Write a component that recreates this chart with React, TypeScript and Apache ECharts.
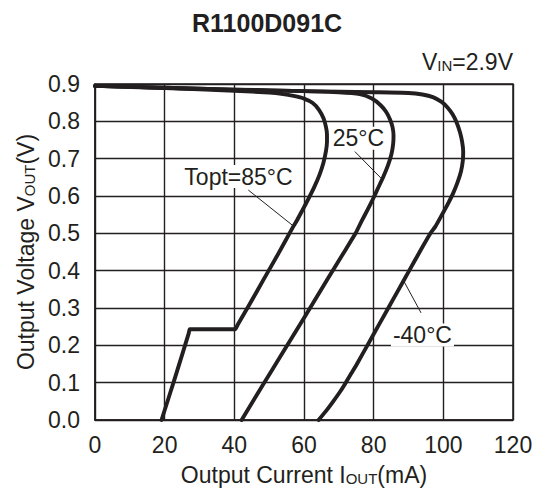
import React, { useEffect, useRef } from "react";
import * as echarts from "echarts";

const TITLE = "R1100D091C";
const X_MIN = 0;
const X_MAX = 120;
const X_STEP = 20;
const Y_MIN = 0;
const Y_MAX = 0.9;
const Y_STEP = 0.1;

const seriesNames = ["Topt=85°C", "25°C", "-40°C"];

const curve85: [number, number][] = [
  [0, 0.895], [20, 0.889], [40, 0.882], [50, 0.877], [54, 0.873], [57, 0.868],
  [60, 0.861], [62.5, 0.849], [64.3, 0.831], [65.6, 0.808], [66.3, 0.785],
  [66.6, 0.765], [66.6, 0.745], [66.3, 0.72], [65.6, 0.69], [64.5, 0.658],
  [63, 0.625], [61.3, 0.593], [59.6, 0.563], [58, 0.535], [56.9, 0.518],
  [52.6, 0.445], [48.5, 0.378], [44.5, 0.312], [41, 0.256], [40.2, 0.243],
  [39.4, 0.243], [28, 0.243], [27.2, 0.243], [26.9, 0.232], [23, 0.114], [19.1, 0],
];

const curve25: [number, number][] = [
  [0, 0.895], [20, 0.89], [40, 0.885], [60, 0.881], [70, 0.878], [76, 0.873],
  [79.5, 0.861], [82, 0.843], [83.6, 0.825], [84.7, 0.805], [85.4, 0.785],
  [85.7, 0.762], [85.6, 0.74], [85.1, 0.712], [84.1, 0.682], [82.8, 0.652],
  [81.3, 0.622], [79.8, 0.592], [78.2, 0.562], [76.5, 0.532], [74.8, 0.5],
  [71, 0.442], [66.6, 0.375], [60, 0.273], [53.2, 0.17], [48.4, 0.097], [42.1, 0],
];

const curveM40: [number, number][] = [
  [0, 0.895], [20, 0.89], [40, 0.885], [60, 0.881], [80, 0.878], [90, 0.876],
  [94, 0.872], [97, 0.865], [99.5, 0.852], [101.2, 0.837], [102.7, 0.818],
  [103.9, 0.795], [104.8, 0.77], [105.4, 0.745], [105.7, 0.72], [105.6, 0.695],
  [105.1, 0.667], [104.1, 0.637], [102.8, 0.607], [101.2, 0.577], [99.5, 0.548],
  [97.7, 0.518], [96.3, 0.5], [93.2, 0.45], [90.2, 0.4], [87.2, 0.35],
  [84.2, 0.3], [81.2, 0.25], [78.2, 0.2], [75.2, 0.15], [73.6, 0.125],
  [72.0, 0.1], [70.3, 0.075], [68.4, 0.05], [66.4, 0.025], [64.2, 0],
];

// annotation anchors (data coordinates)
const labelAt: [number, number][] = [[41.2, 0.652], [75.6, 0.755], [94, 0.228]];
const leaderFrom: [number, number][] = [[44.0, 0.616], [74.6, 0.719], [88.6, 0.373]];
const leaderTo: [number, number][] = [[56.9, 0.52], [82.2, 0.647], [93.6, 0.287]];

const FONT = "Liberation Sans";
const INK = "#231f20";

export default function App() {
  const ref = useRef<HTMLDivElement>(null);
  useEffect(() => {
    document.body.style.margin = "0";
    const chart = echarts.init(ref.current!, null, { renderer: "svg" });
    const curves = [curve85, curve25, curveM40];
    const series: any[] = curves.map((c, i) => ({
      name: seriesNames[i],
      type: "line",
      data: c,
      showSymbol: false,
      symbol: "none",
      smooth: 0.2,
      lineStyle: { color: INK, width: 3.9, join: "round", cap: "round" },
      z: 3,
      markLine: {
        silent: true,
        symbol: ["none", "none"],
        lineStyle: { color: INK, width: 1, type: "solid" },
        label: { show: false },
        data: [[{ coord: leaderFrom[i] }, { coord: leaderTo[i] }]],
      },
      markPoint: {
        silent: true,
        symbol: "circle",
        symbolSize: 0,
        label: {
          show: true,
          position: "inside",
          formatter: seriesNames[i],
          color: INK,
          fontFamily: FONT,
          fontSize: 23,
          backgroundColor: "#fff",
          padding: [0, 2, 0, 2],
        },
        data: [{ coord: labelAt[i] }],
      },
    }));

    chart.setOption({
      animation: false,
      backgroundColor: "#fff",
      title: {
        text: TITLE,
        left: 187,
        top: 5,
        textStyle: { fontFamily: FONT, fontSize: 25, fontWeight: "bold", color: INK },
      },
      graphic: [
        {
          type: "text",
          right: 30,
          top: 50,
          style: {
            text: "{n|V}{s|IN}{n|=2.9V}",
            rich: {
              n: { fontFamily: FONT, fontSize: 23, fill: INK, verticalAlign: "bottom" },
              s: { fontFamily: FONT, fontSize: 15, fill: INK, verticalAlign: "bottom" },
            },
          } as any,
        },
      ],
      grid: {
        left: 95,
        right: 30,
        top: 84,
        bottom: 75,
        show: true,
        borderColor: INK,
        borderWidth: 1.5,
        backgroundColor: "transparent",
      },
      xAxis: {
        type: "value",
        min: X_MIN,
        max: X_MAX,
        interval: X_STEP,
        name: "{n|Output Current I}{s|OUT}{n|(mA)}",
        nameLocation: "middle",
        nameGap: 43,
        nameTextStyle: {
          rich: {
            n: { fontFamily: FONT, fontSize: 23, color: INK, verticalAlign: "bottom" },
            s: { fontFamily: FONT, fontSize: 15, color: INK, verticalAlign: "bottom" },
          },
        },
        axisLine: { show: true, lineStyle: { color: INK, width: 1.5 } },
        axisTick: { show: false },
        axisLabel: { fontFamily: FONT, fontSize: 23, color: INK, margin: 13 },
        splitLine: { show: true, showMinLine: true, showMaxLine: true, lineStyle: { color: INK, width: 1.4 } },
      },
      yAxis: {
        type: "value",
        min: Y_MIN,
        max: Y_MAX,
        interval: Y_STEP,
        name: "{n|Output Voltage V}{s|OUT}{n|(V)}",
        nameLocation: "middle",
        nameGap: 56,
        nameTextStyle: {
          rich: {
            n: { fontFamily: FONT, fontSize: 23, color: INK, verticalAlign: "bottom" },
            s: { fontFamily: FONT, fontSize: 15, color: INK, verticalAlign: "bottom" },
          },
        },
        axisLine: { show: true, lineStyle: { color: INK, width: 1.5 } },
        axisTick: { show: false },
        axisLabel: {
          fontFamily: FONT,
          fontSize: 23,
          color: INK,
          margin: 15,
          formatter: (v: number) => v.toFixed(1),
        },
        splitLine: { show: true, showMinLine: true, showMaxLine: true, lineStyle: { color: INK, width: 1.4 } },
      },
      series,
    });
    return () => chart.dispose();
  }, []);
  return (
    <div
      ref={ref}
      style={{ position: "absolute", left: 0, top: 0, width: 543, height: 495, background: "#fff" }}
    />
  );
}
